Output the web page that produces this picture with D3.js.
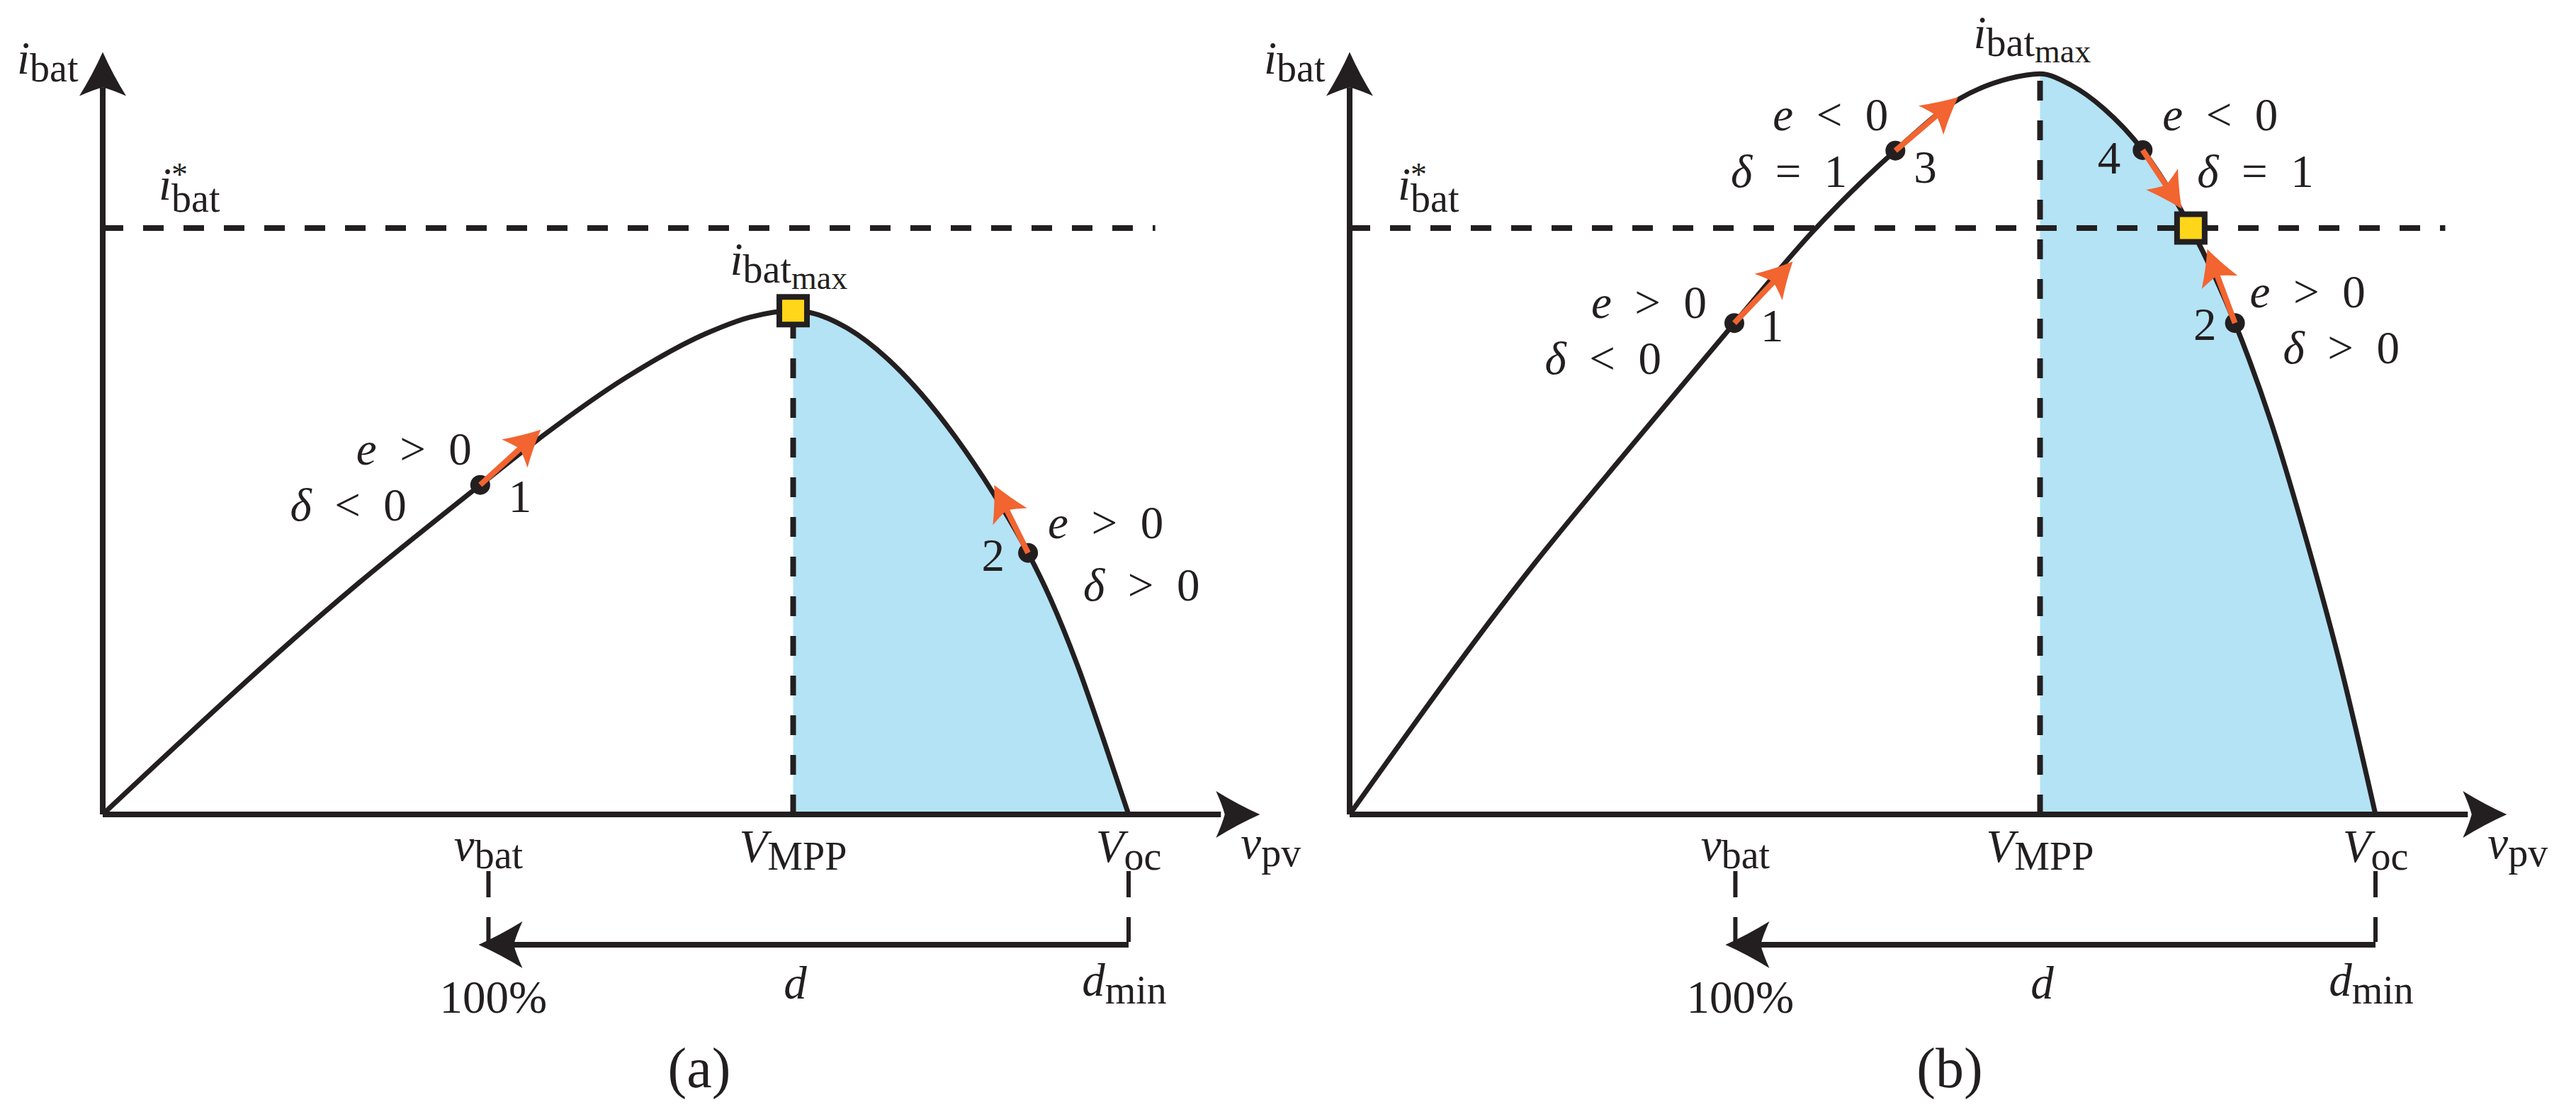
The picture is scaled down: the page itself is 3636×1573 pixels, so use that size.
<!DOCTYPE html>
<html>
<head>
<meta charset="utf-8">
<script src="https://d3js.org/d3.v7.min.js"></script>
<style>
  body { margin: 0; background: #fff; }
  text { fill: #231f20; }
</style>
</head>
<body>
<svg id="chart" width="3636" height="1573"></svg>
<script>
// P-V style curve. v is scaled so that V_oc = 1, i so that i*_bat = 1
const curveV_a = [0, 0.245, 0.368, 0.430, 0.510, 0.588, 0.631, 0.673, 0.689, 0.726, 0.765, 0.797, 0.831, 0.868, 0.902, 0.924, 0.950, 0.977, 1];
const curveI_a = [0, 0.388, 0.562, 0.647, 0.745, 0.820, 0.848, 0.859, 0.856, 0.829, 0.777, 0.719, 0.644, 0.548, 0.446, 0.367, 0.255, 0.120, 0];
const curveV_b = [0, 0.178, 0.273, 0.375, 0.452, 0.532, 0.595, 0.643, 0.673, 0.703, 0.735, 0.773, 0.820, 0.863, 0.898, 0.932, 0.967, 1];
const curveI_b = [0, 0.423, 0.625, 0.838, 0.995, 1.132, 1.221, 1.255, 1.263, 1.244, 1.204, 1.133, 1.000, 0.838, 0.670, 0.472, 0.246, 0];

const panelNames = ["(a)", "(b)"];
const vBat = [0.376, 0.376];
const vMpp = [0.673, 0.673];
const iMax = [0.859, 1.263];
const squareV = [0.673, 0.820];
const squareI = [0.859, 1.0];

// operating points: number, position, where the orange arrow ends, and the two conditions
const pointNum_a = ["1", "2"];
const pointV_a = [0.368, 0.902];
const pointI_a = [0.562, 0.446];
const arrowV_a = [0.427, 0.869];
const arrowI_a = [0.656, 0.562];
const errCond_a = ["e > 0", "e > 0"];
const dutyCond_a = ["δ < 0", "δ > 0"];

const pointNum_b = ["1", "3", "4", "2"];
const pointV_b = [0.375, 0.532, 0.773, 0.863];
const pointI_b = [0.838, 1.132, 1.133, 0.838];
const arrowV_b = [0.432, 0.593, 0.811, 0.836];
const arrowI_b = [0.943, 1.223, 1.033, 0.964];
const errCond_b = ["e > 0", "e < 0", "e < 0", "e > 0"];
const dutyCond_b = ["δ < 0", "δ = 1", "δ = 1", "δ > 0"];

// label placement (pixels from the point): [dx, dy, anchor] for number, e-condition, δ-condition
const labelPos_a = [
  [[40, 38, "start"], [-12, -29, "end"], [-104, 50, "end"]],
  [[-33, 25, "end"], [28, -21, "start"], [78, 67, "start"]]
];
const labelPos_b = [
  [[37, 26, "start"], [-39, -7, "end"], [-103, 72, "end"]],
  [[26, 45, "start"], [-10, -29, "end"], [-68, 51, "end"]],
  [[-31, 33, "end"], [28, -28, "start"], [77, 52, "start"]],
  [[-26, 24, "end"], [21, -22, "start"], [68, 57, "start"]]
];

const BLACK = "#231f20", ORANGE = "#f26430", BLUE = "#b3e3f5", YELLOW = "#ffd619";
const SERIF = "Liberation Serif, Tinos, Times New Roman, DejaVu Serif, Noto Serif, serif";
const MAIN = 65, SUB = 56, SUBSUB = 46;
const origins = [145, 1905];
const istarEnd = [1.026, 1.068];
const istarDx = [79, 68];
const maxLabel = [[-89, -51], [-94, -36]];
const captionX = [842, 847];

const svg = d3.select("#chart");
const x = d3.scaleLinear().domain([0, 1]).range([0, 1448]);
const y = d3.scaleLinear().domain([0, 1]).range([1150, 322]);

function head(g, tx, ty, angle, L, W, color) {
  const p = `M0,0 Q${-0.5 * L},${-0.42 * W} ${-L},${-W} Q${-0.86 * L},${-0.42 * W} ${-0.8 * L},0 ` +
            `Q${-0.86 * L},${0.42 * W} ${-L},${W} Q${-0.5 * L},${0.42 * W} 0,0Z`;
  g.append("path").attr("d", p)
    .attr("transform", `translate(${tx},${ty}) rotate(${angle})`)
    .attr("fill", color);
}

function math(g, px, py, parts, anchor, size) {
  const t = g.append("text").attr("x", px).attr("y", py)
    .attr("text-anchor", anchor || "start")
    .attr("font-family", SERIF)
    .attr("font-size", size || MAIN)
    .attr("xml:space", "preserve");
  const sizes = [size || MAIN, SUB, SUBSUB], shifts = [0, 11, 20];
  let level = 0;
  parts.forEach(([s, k]) => {
    const lv = k === "s" ? 1 : k === "ss" ? 2 : 0;
    const sp = t.append("tspan").text(s)
      .attr("font-size", sizes[lv])
      .attr("font-style", k === "i" ? "italic" : "normal");
    if (shifts[lv] !== shifts[level]) sp.attr("dy", shifts[lv] - shifts[level]);
    level = lv;
  });
  return t;
}

function condParts(str) {
  const [a, rel, b] = str.split(" ");
  return [[a, "i"], ["\u2002" + rel + "\u2002", "r"], [b, "r"]];
}

function drawPanel(k, cv, ci, nums, pv, pi, av, ai, errs, duties, pos) {
  const g = svg.append("g").attr("transform", `translate(${origins[k]},0)`);
  const pts = cv.map((v, j) => ({ v: v, i: ci[j] }));

  // shaded region right of the MPP
  const clipId = "clip" + k;
  g.append("clipPath").attr("id", clipId).append("rect")
    .attr("x", x(vMpp[k])).attr("y", 0)
    .attr("width", x(1.2) - x(vMpp[k])).attr("height", y(0));
  g.append("path").datum(pts)
    .attr("clip-path", `url(#${clipId})`)
    .attr("fill", BLUE)
    .attr("d", d3.area().x(d => x(d.v)).y0(y(0)).y1(d => y(d.i)).curve(d3.curveMonotoneX));

  // dashed guides
  g.append("line").attr("x1", x(0)).attr("x2", x(istarEnd[k]))
    .attr("y1", y(1)).attr("y2", y(1))
    .attr("stroke", BLACK).attr("stroke-width", 8).attr("stroke-dasharray", "29 28");
  g.append("line").attr("x1", x(vMpp[k])).attr("x2", x(vMpp[k]))
    .attr("y1", y(0)).attr("y2", y(iMax[k]))
    .attr("stroke", BLACK).attr("stroke-width", 8).attr("stroke-dasharray", "28 28");
  [vBat[k], 1].forEach(v => {
    g.append("line").attr("x1", x(v)).attr("x2", x(v))
      .attr("y1", 1230).attr("y2", 1330)
      .attr("stroke", BLACK).attr("stroke-width", 6).attr("stroke-dasharray", "37 28");
  });

  // curve
  g.append("path").datum(pts)
    .attr("fill", "none").attr("stroke", BLACK).attr("stroke-width", 7)
    .attr("d", d3.line().x(d => x(d.v)).y(d => y(d.i)).curve(d3.curveMonotoneX));

  // axes
  g.append("line").attr("x1", x(0)).attr("x2", x(0)).attr("y1", y(0)).attr("y2", y(1.24))
    .attr("stroke", BLACK).attr("stroke-width", 8);
  head(g, x(0), y(1.30), -90, 62, 33, BLACK);
  g.append("line").attr("x1", x(0)).attr("x2", x(1.09)).attr("y1", y(0)).attr("y2", y(0))
    .attr("stroke", BLACK).attr("stroke-width", 8);
  head(g, x(1.128), y(0), 0, 62, 33, BLACK);

  // duty cycle arrow
  g.append("line").attr("x1", x(1)).attr("x2", x(vBat[k]) + 20).attr("y1", 1334).attr("y2", 1334)
    .attr("stroke", BLACK).attr("stroke-width", 8);
  head(g, x(vBat[k]) - 14, 1334, 180, 62, 33, BLACK);

  // operating points and their moves
  nums.forEach((n, j) => {
    const px = x(pv[j]), py = y(pi[j]), tx = x(av[j]), ty = y(ai[j]);
    g.append("circle").attr("cx", px).attr("cy", py).attr("r", 14).attr("fill", BLACK);
    const ang = Math.atan2(ty - py, tx - px);
    g.append("line").attr("x1", px).attr("y1", py)
      .attr("x2", tx - 30 * Math.cos(ang)).attr("y2", ty - 30 * Math.sin(ang))
      .attr("stroke", ORANGE).attr("stroke-width", 8);
    head(g, tx, ty, ang * 180 / Math.PI, 50, 27, ORANGE);

    const [pn, pe, pd] = pos[j];
    math(g, px + pn[0], py + pn[1], [[n, "r"]], pn[2]);
    math(g, px + pe[0], py + pe[1], condParts(errs[j]), pe[2]);
    math(g, px + pd[0], py + pd[1], condParts(duties[j]), pd[2]);
  });

  // reference-reaching point
  g.append("rect")
    .attr("x", x(squareV[k]) - 19.5).attr("y", y(squareI[k]) - 19.5)
    .attr("width", 39).attr("height", 39)
    .attr("fill", YELLOW).attr("stroke", BLACK).attr("stroke-width", 8);

  // axis labels
  math(g, x(0) - 121, 104, [["i", "i"], ["bat", "s"]]);

  // i*_bat: star above, "bat" below, stacked after the i
  const star = g.append("text").attr("x", x(0) + istarDx[k]).attr("y", y(1) - 40)
    .attr("font-family", SERIF).attr("font-size", MAIN);
  star.append("tspan").text("i").attr("font-style", "italic");
  const st = star.append("tspan").text("*").attr("font-size", 46).attr("dy", -20);
  const bt = star.append("tspan").text("bat").attr("font-size", SUB).attr("dy", 37);
  bt.attr("dx", -st.node().getComputedTextLength());

  math(g, x(vMpp[k]) + maxLabel[k][0], y(iMax[k]) + maxLabel[k][1],
       [["i", "i"], ["bat", "s"], ["max", "ss"]]);

  math(g, x(vBat[k]), 1215, [["v", "i"], ["bat", "s"]], "middle");
  math(g, x(vMpp[k]), 1217, [["V", "i"], ["MPP", "s"]], "middle");
  math(g, x(1), 1217, [["V", "i"], ["oc", "s"]], "middle");
  math(g, x(1.128) - 27, 1212, [["v", "i"], ["pv", "s"]]);

  math(g, x(vBat[k]) + 7, 1430, [["100%", "r"]], "middle");
  math(g, x(vMpp[k]) + 3, 1410, [["d", "i"]], "middle");
  math(g, x(1) - 6, 1406, [["d", "i"], ["min", "s"]], "middle");

  math(g, captionX[k], 1535, [[panelNames[k], "r"]], "middle", 80);
}

drawPanel(0, curveV_a, curveI_a, pointNum_a, pointV_a, pointI_a, arrowV_a, arrowI_a, errCond_a, dutyCond_a, labelPos_a);
drawPanel(1, curveV_b, curveI_b, pointNum_b, pointV_b, pointI_b, arrowV_b, arrowI_b, errCond_b, dutyCond_b, labelPos_b);
</script>
</body>
</html>
